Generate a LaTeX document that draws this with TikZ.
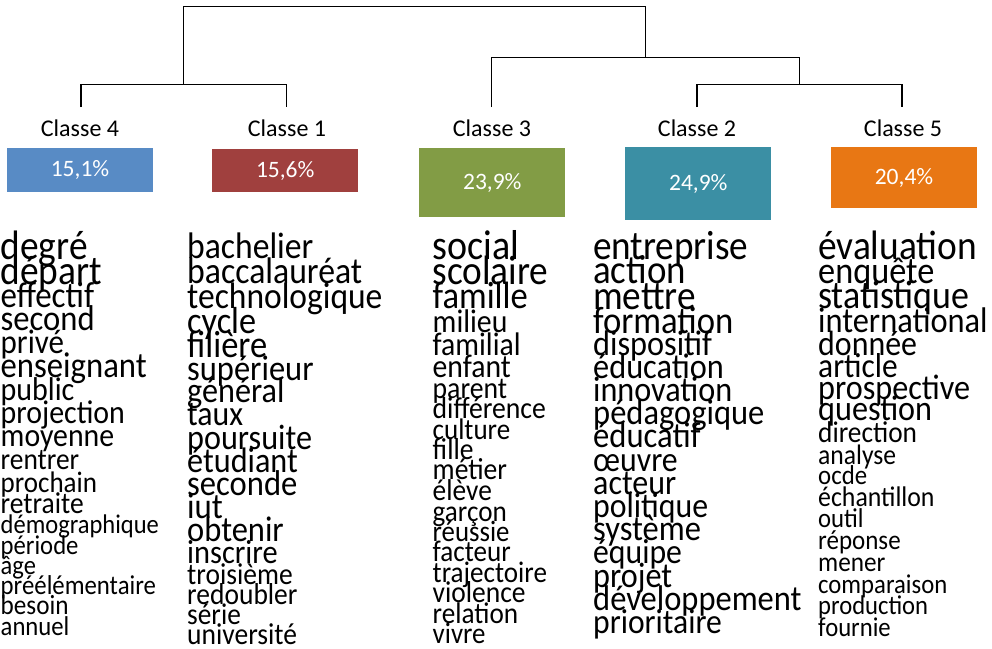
\documentclass[tikz,border=0pt]{standalone}
\usepackage{fontspec}
\setmainfont{Carlito}
\definecolor{bleuC}{RGB}{88,139,197}
\definecolor{rougeC}{RGB}{160,64,62}
\definecolor{vertC}{RGB}{130,156,69}
\definecolor{turquoiseC}{RGB}{59,143,164}
\definecolor{orangeC}{RGB}{232,119,20}
\begin{document}
\begin{tikzpicture}[x=1pt,y=-1pt,
		branche/.style={line width=1.2pt},
		titre/.style={inner sep=0pt,font=\fontsize{24}{24}\selectfont},
		pourcent/.style={inner sep=0pt,minimum width=146pt,text=white,font=\fontsize{23.5}{23.5}\selectfont},
		mot/.style={anchor=base west,inner sep=0pt}]
			\useasboundingbox (0,0) rectangle (992,648);
			% dendrogramme
			\coordinate (l4) at (81,107);
			\coordinate (l1) at (286.7,107);
			\coordinate (l3) at (491.7,107);
			\coordinate (l2) at (697,107);
			\coordinate (l5) at (902,107);
			\coordinate (j41) at (183.8,84.3);
			\coordinate (j25) at (799.5,84.3);
			\coordinate (j325) at (645.8,57.5);
			\coordinate (j0) at (414.8,6.7);
			\draw[branche] (l4) |- (j41) -| (l1);
			\draw[branche] (l2) |- (j25) -| (l5);
			\draw[branche] (l3) |- (j325) -| (j25);
			\draw[branche] (j41) |- (j0) -| (j325);
			% classes
			\node[titre] (t4) at (80,128) {Classe 4};
			\node[titre] (t1) at (287,128) {Classe 1};
			\node[titre] (t3) at (492,128) {Classe 3};
			\node[titre] (t2) at (697,128) {Classe 2};
			\node[titre] (t5) at (903,128) {Classe 5};
			\node[pourcent,fill=bleuC,minimum height=43.4pt] (p4) at (80,170) {15,1\%};
			\node[pourcent,fill=rougeC,minimum height=43.3pt] (p1) at (285.2,170.7) {15,6\%};
			\node[pourcent,fill=vertC,minimum height=69pt] (p3) at (492.3,182.8) {23,9\%};
			\node[pourcent,fill=turquoiseC,minimum height=72.7pt] (p2) at (698.3,183.7) {24,9\%};
			\node[pourcent,fill=orangeC,minimum height=61pt] (p5) at (904,177.8) {20,4\%};
			% mots de chaque classe (taille/centre)
			\foreach \w/\s/\y [count=\i] in {degré/37.4/247,départ/37.4/272,effectif/33/297,second/32.6/320,privé/31/343,enseignant/32.7/367,public/30/390,projection/29.9/413,moyenne/29.8/436,rentrer/27.4/460,prochain/27/483,retraite/27.5/504,démographique/24.5/525,période/24.7/546,âge/24.5/566,préélémentaire/24.8/586,besoin/25.2/606,annuel/24.7/627}
				\node[mot,font=\fontsize{\s}{\s}\selectfont] (a\i) at ({0.5},{\y+0.256*\s+2.5}) {\scalebox{1}[1.1]{\w}};
			\foreach \w/\s/\y [count=\i] in {bachelier/33.6/247,baccalauréat/33.7/272,technologique/33.5/297,cycle/34.2/322,filière/34.5/346,supérieur/32.5/370,général/32.2/392,taux/31.8/415,poursuite/32.2/439,étudiant/32.2/462,seconde/32.6/485,iut/32.8/508,obtenir/32.5/531,inscrire/30.4/553,troisième/27.5/575,redoubler/27.5/595,série/27.3/615,université/27.5/635}
				\node[mot,font=\fontsize{\s}{\s}\selectfont] (b\i) at ({187},{\y+0.256*\s+2.5}) {\scalebox{1}[1.1]{\w}};
			\foreach \w/\s/\y [count=\i] in {social/38/247,scolaire/37.3/272,famille/34.6/297,milieu/29.8/322,familial/29.7/345,enfant/29.7/367,parent/27.7/389,différence/27.7/409,culture/27/430,fille/27.5/450,métier/27.6/470,élève/27.4/491,garçon/27.1/512,réussie/26.8/532,facteur/27.1/552,trajectoire/27.1/573,violence/27.5/593,relation/27.2/614,vivre/26.9/634}
				\node[mot,font=\fontsize{\s}{\s}\selectfont] (c\i) at ({432.5},{\y+0.256*\s+2.5}) {\scalebox{1}[1.1]{\w}};
			\foreach \w/\s/\y [count=\i] in {entreprise/37.2/247,action/36.9/272,mettre/37.2/297,formation/34.7/322,dispositif/32.3/345,éducation/32.3/368,innovation/32.2/391,pédagogique/32.5/414,éducatif/32.6/437,œuvre/31.8/461,acteur/32/484,politique/31.8/507,système/32.5/530,équipe/31.7/553,projet/32.2/577,développement/32.5/600,prioritaire/31.6/623}
				\node[mot,font=\fontsize{\s}{\s}\selectfont] (d\i) at ({593},{\y+0.256*\s+2.5}) {\scalebox{1}[1.1]{\w}};
			\foreach \w/\s/\y [count=\i] in {évaluation/37.4/247,enquête/34.3/272,statistique/35.9/297,international/32.4/322,donnée/31.9/345,article/31.4/367,prospective/32.2/389,question/32.2/410,direction/27.3/433,analyse/25.6/455,ocde/24.8/476,échantillon/25.8/497,outil/24.7/519,réponse/25/541,mener/25.2/563,comparaison/24.7/585,production/24.6/606,fournie/24.7/628}
				\node[mot,font=\fontsize{\s}{\s}\selectfont] (e\i) at ({818},{\y+0.256*\s+2.5}) {\scalebox{1}[1.1]{\w}};
		\end{tikzpicture}
\end{document}
